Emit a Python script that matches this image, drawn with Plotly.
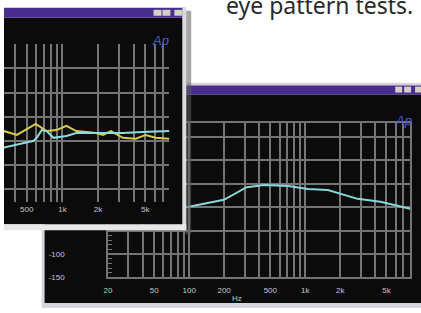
import math
import plotly.graph_objects as go

W, H = 421, 313

# ---------------- data ----------------
# large (back) analyzer window
back_freq = [90, 100, 199, 313, 445, 713, 1057, 1566, 2825, 4438, 8000]
back_level = [-1.0, 1.2, 16.0, 43.0, 47.4, 45.3, 39.0, 37.0, 18.0, 11.7, -3.0]

# small (front) analyzer window
front_freq = [321, 413, 595, 735, 891, 1080, 1310, 1925, 2203, 2569, 3236, 4157, 5040, 6109, 8000]
front_yellow = [-3.0, -3.8, -1.5, -3.0, -2.8, -1.9, -3.0, -3.4, -3.8, -3.0, -4.4, -4.6, -3.8, -4.4, -4.6]
front_cyan_freq = [321, 573, 607, 668, 735, 841, 1080, 1310, 1925, 3236, 4755, 8000]
front_cyan = [-6.4, -5.0, -4.4, -2.8, -3.0, -4.4, -4.0, -3.4, -3.4, -3.4, -3.2, -3.0]

# tick labels
freq_grid = [m * d for d in (10, 100, 1000) for m in range(1, 10)]
freq_labels = {20: "20", 50: "50", 100: "100", 200: "200", 500: "500",
               1000: "1k", 2000: "2k", 5000: "5k"}
back_yticks = [-150, -100, -50, 0, 50, 100, 150]
back_ylabels = ["-150", "-100", "", "", "", "", ""]
front_yticks = [-15, -10, -5, 0, 5, 10, 15]
caption = "eye pattern tests."

# ---------------- styling helpers ----------------
GRID = "#747474"
BG = "#0b0b0b"
PURPLE = "#4a2e8e"
TICKFONT = dict(family="Liberation Sans", size=8, color="#c8c8c8")


def px(x):
    return x / W


def py(y):
    return 1 - y / H


def rect(x0, y0, x1, y1, color, layer="below"):
    return dict(type="rect", xref="paper", yref="paper",
                x0=px(x0), x1=px(x1), y0=py(y1), y1=py(y0),
                fillcolor=color, line=dict(width=0), layer=layer)


fig = go.Figure()

# back window trace (subplot xy, drawn first)
fig.add_trace(go.Scatter(x=back_freq, y=back_level, mode="lines",
                         line=dict(color="#88d6d6", width=2),
                         xaxis="x", yaxis="y", hoverinfo="skip"))
# front window body (subplot x2y2, opaque background hides the back window)
fig.add_trace(go.Scatter(x=[None], y=[None], mode="lines",
                         xaxis="x2", yaxis="y2", hoverinfo="skip"))
# front window traces (subplot x3y3)
fig.add_trace(go.Scatter(x=front_freq, y=front_yellow, mode="lines",
                         line=dict(color="#d8cb48", width=2),
                         xaxis="x3", yaxis="y3", hoverinfo="skip"))
fig.add_trace(go.Scatter(x=front_cyan_freq, y=front_cyan, mode="lines",
                         line=dict(color="#8edcdc", width=2),
                         xaxis="x3", yaxis="y3", hoverinfo="skip"))

back_xtext = [freq_labels.get(v, "") for v in freq_grid]

shapes = [
    # back window chrome
    rect(38, 84, 421, 313, "#d4d4da"),
    rect(41, 96, 421, 308, BG),
    rect(41, 87, 421, 96, PURPLE),
    rect(395, 88, 402, 94, "#d4d0c8"),
    rect(404, 88, 411, 94, "#d4d0c8"),
    rect(415, 88, 421, 94, "#d4d0c8"),
    # front window chrome
    rect(183, 11, 189, 238, "rgba(95,95,95,0.55)", "above"),
    rect(0, 8, 183, 18, PURPLE, "above"),
    rect(180, 8, 184, 234, "#dcdcdc", "above"),
    rect(0, 228, 184, 234, "#e8e8e8", "above"),
    rect(151, 10, 159, 16, "#d4d0c8", "above"),
    rect(160, 10, 168, 16, "#d4d0c8", "above"),
    rect(172, 10, 180, 16, "#d4d0c8", "above"),
]

AP_FONT = dict(family="Liberation Sans", size=13, color="#4a5bd4")
annotations = [
    dict(text="<i>Ap</i>", x=px(158), y=py(41), xref="paper", yref="paper",
         xanchor="center", yanchor="middle", showarrow=False, font=AP_FONT),
    dict(text="<i>Ap</i>", x=px(403), y=py(122), xref="paper", yref="paper",
         xanchor="center", yanchor="middle", showarrow=False, font=AP_FONT),
    dict(text="Hz", x=px(235), y=py(303), xref="paper", yref="paper",
         xanchor="center", yanchor="middle", showarrow=False, font=TICKFONT),
    dict(text=caption, x=px(222), y=py(-13), xref="paper", yref="paper",
         xanchor="left", yanchor="top", showarrow=False,
         font=dict(family="Noto Sans", size=23, color="#2a2a2a")),
]

fig.update_layout(
    width=W, height=H, margin=dict(l=0, r=0, t=0, b=0),
    paper_bgcolor="white", plot_bgcolor=BG, showlegend=False,
    shapes=shapes, annotations=annotations,
    xaxis=dict(type="log", range=[math.log10(20), math.log10(8000)],
               domain=[px(105), px(410)], anchor="y",
               tickmode="array", tickvals=freq_grid, ticktext=back_xtext,
               showgrid=True, gridcolor=GRID, gridwidth=1.5,
               showline=True, mirror=True, linecolor=GRID, linewidth=1.5,
               ticks="", zeroline=False, tickfont=TICKFONT,
               ticklabelstandoff=4),
    yaxis=dict(range=[-150, 180], domain=[py(282), py(125)], anchor="x",
               tickmode="array", tickvals=back_yticks, ticktext=back_ylabels,
               showgrid=True, gridcolor=GRID, gridwidth=1.5,
               showline=True, mirror=True, linecolor=GRID, linewidth=1.5,
               ticks="", zeroline=False, tickfont=TICKFONT,
               ticklabelstandoff=40,
               minor=dict(ticks="inside", tickmode="linear", tick0=0, dtick=10,
                          ticklen=4, tickcolor=GRID, showgrid=False)),
    xaxis2=dict(domain=[0, px(181)], anchor="y2", visible=False),
    yaxis2=dict(domain=[py(228), py(18)], anchor="x2", visible=False),
    xaxis3=dict(type="log", range=[2.507, math.log10(8000)],
                domain=[0, px(167)], anchor="y3",
                tickmode="array", tickvals=freq_grid, ticktext=back_xtext,
                showgrid=True, gridcolor=GRID, gridwidth=1.5,
                ticks="", zeroline=False, tickfont=TICKFONT,
                ticklabelstandoff=1),
    yaxis3=dict(range=[-17.65, 15], domain=[py(205), py(45)], anchor="x3",
                tickmode="array", tickvals=front_yticks, showticklabels=False,
                showgrid=True, gridcolor=GRID, gridwidth=1.5,
                ticks="", zeroline=False),
)

fig.write_html(
    "out.html",
    config={"displayModeBar": False},
    post_script="document.body.style.margin='0';document.body.style.padding='0';",
)
